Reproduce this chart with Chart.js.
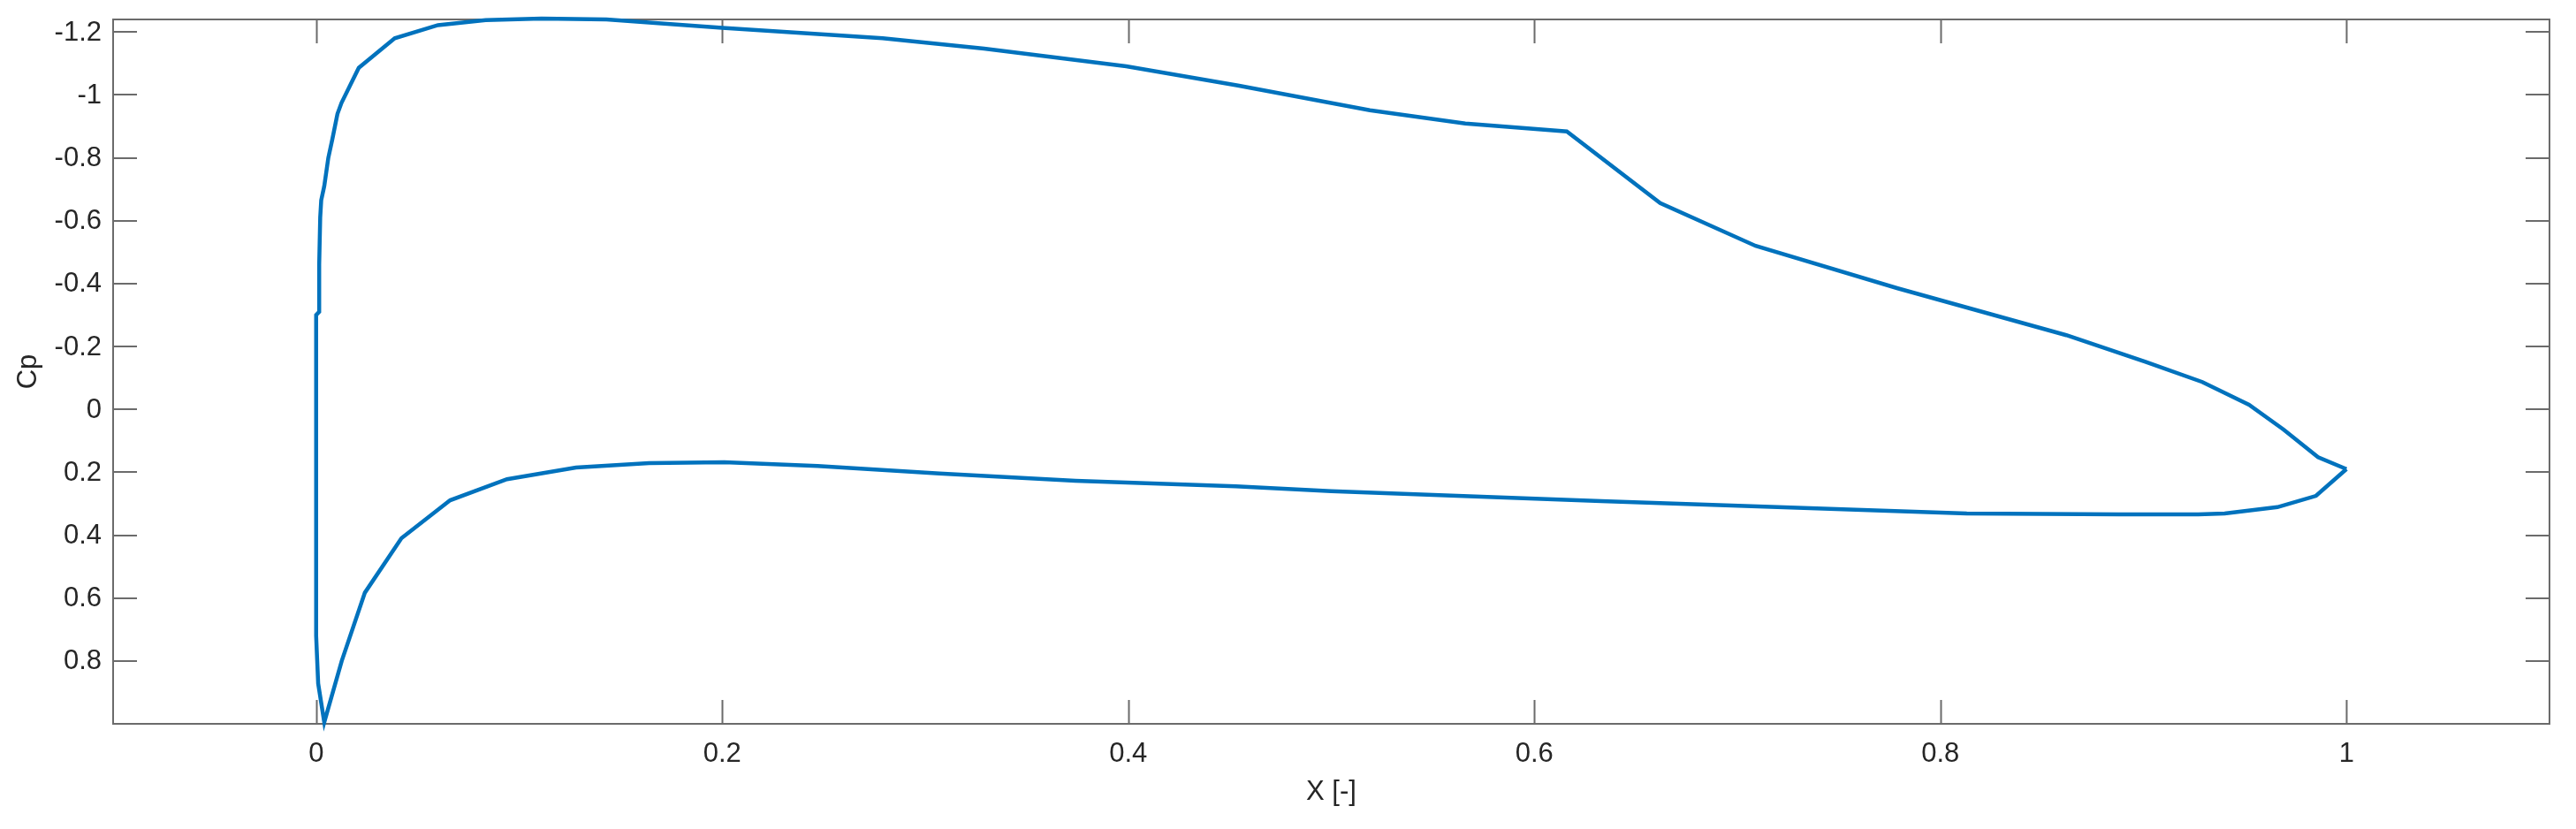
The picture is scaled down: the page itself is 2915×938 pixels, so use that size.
<!DOCTYPE html>
<html>
<head>
<meta charset="utf-8">
<title>Cp distribution</title>
<script src="https://cdn.jsdelivr.net/npm/chart.js@4/dist/chart.umd.min.js"></script>
<style>
    html, body { margin: 0; padding: 0; background: #fff; }
    canvas { display: block; }
</style>
</head>
<body>
<canvas id="cpChart" width="2915" height="938"></canvas>
<script>
// Upper surface, leading edge -> trailing edge
const xUpper  = [0.0015, 0.0015, 0.002, 0.0025, 0.004, 0.006, 0.008, 0.0105, 0.0125, 0.021, 0.0387, 0.060, 0.0835, 0.111, 0.143, 0.200, 0.279, 0.329, 0.399, 0.454, 0.519, 0.566, 0.616, 0.662, 0.709, 0.779, 0.862, 0.901, 0.929, 0.952, 0.969, 0.986, 1.000];
const cpUpper = [-0.31, -0.46, -0.61, -0.665, -0.71, -0.80, -0.86, -0.94, -0.975, -1.086, -1.18, -1.222, -1.238, -1.243, -1.240, -1.213, -1.180, -1.147, -1.091, -1.030, -0.951, -0.909, -0.884, -0.656, -0.520, -0.385, -0.236, -0.151, -0.087, -0.015, 0.064, 0.152, 0.190];

// Lower surface, leading edge -> trailing edge
const xLower  = [0.000, 0.000, 0.001, 0.004, 0.0126, 0.024, 0.042, 0.066, 0.094, 0.128, 0.164, 0.201, 0.247, 0.307, 0.374, 0.453, 0.500, 0.633, 0.813, 0.888, 0.927, 0.940, 0.966, 0.985, 1.000];
const cpLower = [-0.30, 0.72, 0.872, 0.995, 0.80, 0.583, 0.41, 0.289, 0.222, 0.185, 0.171, 0.168, 0.180, 0.204, 0.227, 0.245, 0.260, 0.292, 0.331, 0.334, 0.334, 0.331, 0.311, 0.275, 0.190];

// Tick labels
const xTicks  = [0, 0.2, 0.4, 0.6, 0.8, 1];
const cpTicks = [-1.2, -1, -0.8, -0.6, -0.4, -0.2, 0, 0.2, 0.4, 0.6, 0.8];

const AXIS_COLOR = '#6b6b6b';
const TEXT_COLOR = '#262626';
const FONT = { family: '"Liberation Sans", Arial, Helvetica, sans-serif', size: 31 };

// Closed path: trailing edge along upper side to LE, then lower side back to TE
const points = [];
for (let i = xUpper.length - 1; i >= 0; i--) points.push({ x: xUpper[i], y: cpUpper[i] });
for (let i = 0; i < xLower.length; i++) points.push({ x: xLower[i], y: cpLower[i] });

// MATLAB-style box with inward ticks on all four sides
const boxAxes = {
    id: 'boxAxes',
    beforeDatasetsDraw(chart) {
        const { ctx, chartArea: a, scales } = chart;
        const len = 27;
        ctx.save();
        ctx.strokeStyle = AXIS_COLOR;
        ctx.lineWidth = 2;
        ctx.strokeRect(a.left, a.top, a.right - a.left, a.bottom - a.top);
        ctx.beginPath();
        scales.x.ticks.forEach(t => {
            const px = Math.round(scales.x.getPixelForValue(t.value)) + 0.5;
            ctx.moveTo(px, a.bottom); ctx.lineTo(px, a.bottom - len);
            ctx.moveTo(px, a.top);    ctx.lineTo(px, a.top + len);
        });
        scales.y.ticks.forEach(t => {
            const py = Math.round(scales.y.getPixelForValue(t.value));
            ctx.moveTo(a.left, py);  ctx.lineTo(a.left + len, py);
            ctx.moveTo(a.right, py); ctx.lineTo(a.right - len, py);
        });
        ctx.stroke();

        // y tick labels, right aligned next to the axis
        ctx.fillStyle = TEXT_COLOR;
        ctx.font = FONT.size + 'px ' + FONT.family;
        ctx.textAlign = 'right';
        ctx.textBaseline = 'middle';
        scales.y.ticks.forEach(t => {
            ctx.fillText(String(t.value), a.left - 13, scales.y.getPixelForValue(t.value) + 1);
        });
        ctx.restore();
    }
};

new Chart(document.getElementById('cpChart'), {
    type: 'scatter',
    data: {
        datasets: [{
            data: points,
            showLine: true,
            borderColor: '#0072BD',
            borderWidth: 4.5,
            pointRadius: 0,
            fill: false,
            tension: 0,
            clip: false
        }]
    },
    options: {
        responsive: false,
        animation: false,
        devicePixelRatio: 1,
        layout: { padding: { top: 22, right: 30, left: 0, bottom: 0 } },
        plugins: { legend: { display: false }, tooltip: { enabled: false } },
        scales: {
            x: {
                type: 'linear',
                min: -0.1,
                max: 1.1,
                afterBuildTicks: s => { s.ticks = xTicks.map(v => ({ value: v })); },
                afterFit: s => { s.height = 119; s.paddingLeft = 0; s.paddingRight = 0; },
                grid: { display: false, drawTicks: false },
                border: { display: false },
                ticks: { font: FONT, color: TEXT_COLOR, padding: 16, maxRotation: 0, autoSkip: false, callback: v => String(v) },
                title: { display: true, text: 'X [-]', font: FONT, color: TEXT_COLOR, padding: { top: 0, bottom: 23 } }
            },
            y: {
                type: 'linear',
                reverse: true,
                min: -1.24,
                max: 1.0,
                afterBuildTicks: s => { s.ticks = cpTicks.map(v => ({ value: v })); },
                afterFit: s => { s.width = 128; s.paddingTop = 0; s.paddingBottom = 0; },
                grid: { display: false, drawTicks: false },
                border: { display: false },
                ticks: { display: false },
                title: { display: true, text: 'Cp', font: FONT, color: TEXT_COLOR, padding: { top: 14, bottom: 0 } }
            }
        }
    },
    plugins: [boxAxes]
});
</script>
</body>
</html>
